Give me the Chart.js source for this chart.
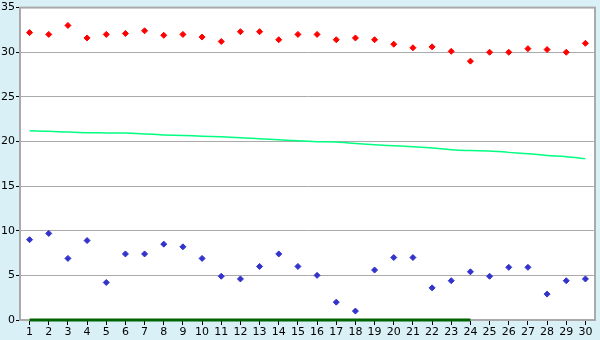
<!DOCTYPE html>
<html><head><meta charset="utf-8">
<script src="https://cdn.jsdelivr.net/npm/chart.js@4"></script>
<style>html,body{margin:0;padding:0;background:#d9f0f6}#w{width:600px;height:340px}</style>
</head><body><div id="w"><canvas id="c" width="600" height="340"></canvas></div>
<script>
const categories = ['1','2','3','4','5','6','7','8','9','10','11','12','13','14','15','16','17','18','19','20','21','22','23','24','25','26','27','28','29','30'];
const redSeries = [32.2,32.0,33.0,31.6,32.0,32.1,32.4,31.9,32.0,31.7,31.2,32.3,32.3,31.4,32.0,32.0,31.4,31.6,31.4,30.9,30.5,30.6,30.1,29.0,30.0,30.0,30.4,30.3,30.0,31.0];
const blueSeries = [9.0,9.7,6.9,8.9,4.2,7.4,7.4,8.5,8.2,6.9,4.9,4.6,6.0,7.4,6.0,5.0,2.0,1.0,5.6,7.0,7.0,3.6,4.4,5.4,4.9,5.9,5.9,2.9,4.4,4.6];
const trendSeries = [21.2,21.15,21.05,20.98,20.96,20.94,20.85,20.74,20.66,20.6,20.52,20.42,20.3,20.19,20.07,19.98,19.94,19.78,19.63,19.52,19.41,19.28,19.08,18.98,18.94,18.78,18.63,18.44,18.3,18.08];
const baseSeries = [0,0,0,0,0,0,0,0,0,0,0,0,0,0,0,0,0,0,0,0,0,0,0,0,null,null,null,null,null,null];
const yTicks = [0,5,10,15,20,25,30,35];

const bgPlugin = {
  id:'bg',
  beforeDraw(chart){
    const {ctx, chartArea:a} = chart;
    ctx.save();
    ctx.fillStyle='#d9f0f6'; ctx.fillRect(0,0,chart.width,chart.height);
    ctx.fillStyle='#ffffff'; ctx.fillRect(a.left,a.top,a.right-a.left,a.bottom-a.top);
    ctx.restore();
  },
  beforeDatasetsDraw(chart){
    const {ctx, chartArea:a} = chart;
    ctx.save();
    ctx.strokeStyle='#aaaaaa'; ctx.lineWidth=2;
    ctx.strokeRect(a.left,a.top,a.right-a.left,a.bottom-a.top);
    ctx.restore();
  }
};

new Chart(document.getElementById('c'), {
  type:'line',
  data:{
    labels:categories,
    datasets:[
      {data:baseSeries,borderColor:'#006400',borderWidth:3,pointRadius:0,spanGaps:false,clip:false},
      {data:trendSeries,borderColor:'#00ff80',borderWidth:1.5,pointRadius:0,cubicInterpolationMode:'monotone'},
      {data:redSeries,showLine:false,pointStyle:'rectRot',pointRadius:3,backgroundColor:'#ff0000',borderColor:'#ff0000',borderWidth:1},
      {data:blueSeries,showLine:false,pointStyle:'rectRot',pointRadius:3,backgroundColor:'#3333cc',borderColor:'#3333cc',borderWidth:1}
    ]
  },
  options:{
    responsive:false,animation:false,
    layout:{padding:{top:5,right:5,left:0,bottom:0}},
    plugins:{legend:{display:false},tooltip:{enabled:false}},
    scales:{
      x:{offset:true,
        grid:{display:true,drawOnChartArea:false,color:'#000',tickLength:5,offset:false},
        border:{display:false},
        ticks:{color:'#000',font:{family:'DejaVu Sans',size:11},padding:1,maxRotation:0,autoSkip:false},
        afterFit(s){s.height=20;}
      },
      y:{min:0,max:35,
        afterBuildTicks(s){s.ticks=yTicks.map(v=>({value:v}));},
        grid:{color:'#aaaaaa',lineWidth:1,tickLength:4,tickColor:'#000'},
        border:{display:false},
        ticks:{color:'#000',font:{family:'DejaVu Sans',size:11},padding:1},
        afterFit(s){s.width=20;}
      }
    }
  },
  plugins:[bgPlugin]
});
</script></body></html>
